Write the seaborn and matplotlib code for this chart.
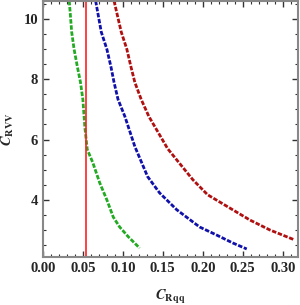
import numpy as np
import pandas as pd
import matplotlib
matplotlib.use("Agg")
import matplotlib.pyplot as plt
import seaborn as sns
from matplotlib.ticker import MultipleLocator

# curves: C_Rqq (x) against C_RVV (y)
green_x = [0.033, 0.036, 0.039, 0.043, 0.047, 0.050, 0.0525, 0.0555, 0.0625, 0.071, 0.080, 0.088, 0.096, 0.107, 0.121]
green_y = [10.6, 9.57, 9.0, 8.43, 7.9, 7.33, 6.4, 5.67, 5.23, 4.57, 4.0, 3.43, 3.1, 2.77, 2.4]

blue_x = [0.066, 0.073, 0.080, 0.085, 0.089, 0.094, 0.1025, 0.115, 0.131, 0.146, 0.1675, 0.196, 0.2175, 0.2375, 0.255]
blue_y = [10.6, 9.57, 9.0, 8.43, 7.9, 7.33, 6.77, 5.77, 4.77, 4.23, 3.67, 3.1, 2.83, 2.57, 2.37]

red_x = [0.089, 0.098, 0.105, 0.110, 0.115, 0.123, 0.1325, 0.156, 0.1875, 0.206, 0.2375, 0.259, 0.284, 0.315]
red_y = [10.6, 9.57, 9.0, 8.43, 7.9, 7.33, 6.77, 5.70, 4.67, 4.17, 3.67, 3.33, 3.0, 2.67]

vline_x = 0.0535

sns.set_style("ticks")
plt.rcParams['font.family'] = ['Liberation Serif', 'DejaVu Serif']
plt.rcParams['mathtext.fontset'] = 'stix'

fig = plt.figure(figsize=(3.0, 3.05), dpi=100)
ax = fig.add_axes([0.143, 0.157, 0.85, 0.84])

curves = [(green_x, green_y, '#22aa22'), (blue_x, blue_y, '#1010aa'), (red_x, red_y, '#b01010')]
for xs, ys, col in curves:
    df = pd.DataFrame({'x': xs, 'y': ys})
    sns.lineplot(data=df, x='x', y='y', sort=False, color=col, lw=2.0,
                 linestyle=(0, (1.6, 0.6)), ax=ax)

ax.axvline(vline_x, color='#ff2020', lw=1.2)

ax.set_xlim(0, 0.319)
ax.set_ylim(2.1, 10.6)
ax.xaxis.set_major_locator(MultipleLocator(0.05))
ax.xaxis.set_minor_locator(MultipleLocator(0.01))
ax.yaxis.set_major_locator(MultipleLocator(2))
ax.yaxis.set_minor_locator(MultipleLocator(0.5))
ax.set_xticklabels([f'{v:.2f}' for v in ax.get_xticks()])

ax.tick_params(which='both', direction='in', top=True, right=True, color='#333333')
ax.tick_params(which='major', length=4, width=1, labelsize=10.5)
ax.tick_params(which='minor', length=2, width=0.8)
for lab in ax.get_xticklabels() + ax.get_yticklabels():
    lab.set_fontweight('bold')
for sp in ax.spines.values():
    sp.set_color('#888888')
    sp.set_linewidth(1.5)

ax.set_xlabel(r'$\mathbfit{C}_{\mathbf{Rqq}}$', fontsize=10.5)
ax.set_ylabel(r'$\mathbfit{C}_{\mathbf{RVV}}$', fontsize=10.5)
ax.xaxis.set_label_coords(0.5, -0.12)
ax.yaxis.set_label_coords(-0.105, 0.5)

fig.savefig('out.png', dpi=100)
